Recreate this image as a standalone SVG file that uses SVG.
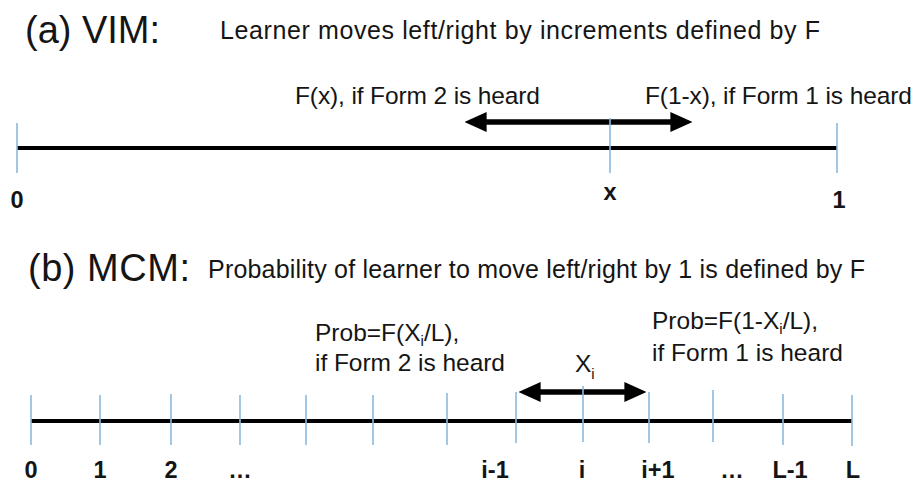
<svg xmlns="http://www.w3.org/2000/svg" width="915" height="483" viewBox="0 0 915 483">
<style>
  text { font-family: "Liberation Sans", Arial, sans-serif; fill: #151515; }
  .title { font-size: 38px; }
  .desc { font-size: 25px; }
  .lbl { font-size: 24.5px; }
  .num { font-size: 23.5px; font-weight: bold; text-anchor: middle; }
  .axis { stroke: #000; stroke-width: 4; }
  .tick { stroke: #8dbadc; stroke-width: 1.6; }
  .arr { stroke: #000; stroke-width: 5.5; marker-start: url(#head); marker-end: url(#head); }
</style>
<defs>
  <marker id="head" markerUnits="userSpaceOnUse" markerWidth="22" markerHeight="20" viewBox="0 0 20 18" refX="6" refY="9" orient="auto-start-reverse">
    <path d="M0,0 L20,9 L0,18 z" fill="#000"/>
  </marker>
</defs>
<rect width="915" height="483" fill="#fff"/>

<g id="panel-a">
  <text class="title" x="25" y="43" textLength="135">(a) VIM:</text>
  <text class="desc" x="220" y="39" textLength="600">Learner moves left/right by increments defined by F</text>
  <text class="lbl" x="295" y="104" textLength="245">F(x), if Form 2 is heard</text>
  <text class="lbl" x="645" y="104" textLength="267">F(1-x), if Form 1 is heard</text>
  <g id="connectors-a">
    <line class="arr" x1="480" y1="122" x2="677" y2="122"/>
  </g>
  <line class="axis" x1="17" y1="148" x2="837" y2="148"/>
  <line class="tick" x1="17" y1="123" x2="17" y2="173"/>
  <line class="tick" x1="610" y1="118" x2="610" y2="173"/>
  <line class="tick" x1="837" y1="123" x2="837" y2="173"/>
  <text class="num" x="17" y="208">0</text>
  <text class="num" x="610" y="200">x</text>
  <text class="num" x="839" y="208">1</text>
</g>

<g id="panel-b">
  <text class="title" x="28" y="281" textLength="162">(b) MCM:</text>
  <text class="desc" x="208" y="278" textLength="657">Probability of learner to move left/right by 1 is defined by F</text>
  <text class="lbl" x="315" y="341">Prob=F(X<tspan font-size="15" dy="5">i</tspan><tspan dy="-5">/L),</tspan></text>
  <text class="lbl" x="315" y="371" textLength="190">if Form 2 is heard</text>
  <text class="lbl" x="652" y="329">Prob=F(1-X<tspan font-size="15" dy="5">i</tspan><tspan dy="-5">/L),</tspan></text>
  <text class="lbl" x="652" y="361" textLength="191">if Form 1 is heard</text>
  <text class="lbl" x="575" y="372">X<tspan font-size="15" dy="7">i</tspan></text>
  <g id="connectors-b">
    <line class="arr" x1="534" y1="392" x2="631" y2="392"/>
  </g>
  <line class="axis" x1="31" y1="421" x2="852" y2="421"/>
  <g id="ticks-b">
    <line class="tick" x1="31" y1="395" x2="31" y2="445"/>
    <line class="tick" x1="100" y1="395" x2="100" y2="445"/>
    <line class="tick" x1="171" y1="394" x2="171" y2="445"/>
    <line class="tick" x1="240" y1="395" x2="240" y2="445"/>
    <line class="tick" x1="306" y1="395" x2="306" y2="445"/>
    <line class="tick" x1="373" y1="395" x2="373" y2="445"/>
    <line class="tick" x1="447" y1="393" x2="447" y2="445"/>
    <line class="tick" x1="516" y1="392" x2="516" y2="443"/>
    <line class="tick" x1="583" y1="386" x2="583" y2="442"/>
    <line class="tick" x1="649" y1="392" x2="649" y2="443"/>
    <line class="tick" x1="713" y1="390" x2="713" y2="442"/>
    <line class="tick" x1="783" y1="394" x2="783" y2="445"/>
    <line class="tick" x1="852" y1="395" x2="852" y2="446"/>
  </g>
  <text class="num" x="31" y="478">0</text>
  <text class="num" x="100" y="478">1</text>
  <text class="num" x="171" y="478">2</text>
  <text class="num" x="240" y="478">…</text>
  <text class="num" x="495" y="478">i-1</text>
  <text class="num" x="582" y="478">i</text>
  <text class="num" x="658" y="478">i+1</text>
  <text class="num" x="732" y="478">…</text>
  <text class="num" x="790" y="478">L-1</text>
  <text class="num" x="853" y="478">L</text>
</g>
</svg>
